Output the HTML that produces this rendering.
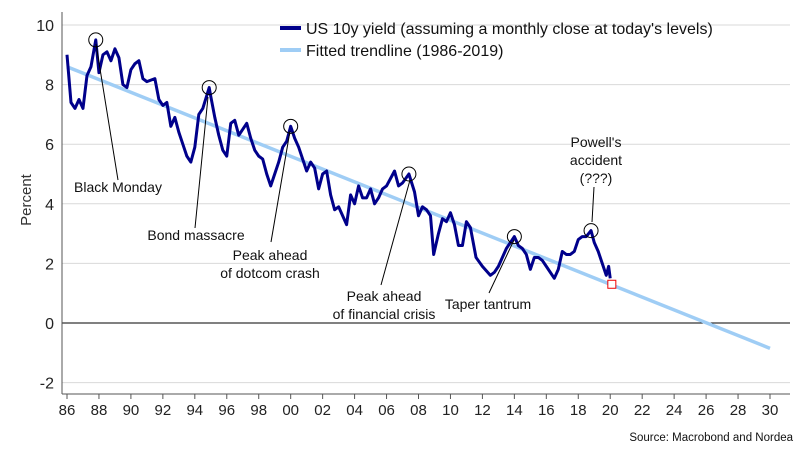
<!DOCTYPE html>
<html><head><meta charset="utf-8"><style>
body{margin:0;background:#fff}
svg{display:block;font-family:"Liberation Sans",sans-serif}
</style></head><body>
<svg id="c" width="809" height="454">
<g id="grid"></g><g id="marks"></g><g id="ann"></g>
</svg>
<script>
const years=[1986,1986.25,1986.5,1986.75,1987,1987.25,1987.5,1987.8,1988,1988.25,1988.5,1988.75,1989,1989.25,1989.5,1989.75,1990,1990.25,1990.5,1990.75,1991,1991.5,1991.75,1992,1992.25,1992.5,1992.75,1993,1993.25,1993.5,1993.75,1994,1994.25,1994.5,1994.9,1995,1995.25,1995.5,1995.75,1996,1996.25,1996.5,1996.75,1997,1997.25,1997.5,1997.75,1998,1998.25,1998.5,1998.75,1999,1999.25,1999.5,1999.75,2000,2000.25,2000.5,2000.75,2001,2001.25,2001.5,2001.75,2002,2002.25,2002.5,2002.75,2003,2003.5,2003.75,2004,2004.25,2004.5,2004.75,2005,2005.25,2005.5,2005.75,2006,2006.5,2006.75,2007,2007.4,2007.75,2008,2008.25,2008.5,2008.75,2008.95,2009.25,2009.5,2009.75,2010,2010.25,2010.5,2010.75,2011,2011.25,2011.6,2012,2012.5,2012.75,2013,2013.5,2013.75,2014,2014.25,2014.5,2014.75,2015,2015.25,2015.5,2015.75,2016,2016.5,2016.75,2017,2017.25,2017.5,2017.75,2018,2018.25,2018.5,2018.8,2019,2019.25,2019.5,2019.75,2019.9,2020];
const yields=[9.0,7.4,7.2,7.5,7.2,8.3,8.6,9.5,8.4,9.0,9.1,8.8,9.2,8.9,8.0,7.9,8.5,8.7,8.8,8.2,8.1,8.2,7.5,7.3,7.4,6.6,6.9,6.4,6.0,5.6,5.4,5.9,7.0,7.2,7.9,7.6,6.9,6.3,5.8,5.6,6.7,6.8,6.3,6.5,6.7,6.2,5.8,5.6,5.5,5.0,4.6,5.0,5.4,5.9,6.1,6.6,6.2,5.9,5.5,5.1,5.4,5.2,4.5,5.0,5.1,4.3,3.8,3.9,3.3,4.3,4.0,4.6,4.2,4.2,4.5,4.0,4.2,4.5,4.6,5.1,4.6,4.7,5.0,4.4,3.6,3.9,3.8,3.6,2.3,3.0,3.5,3.4,3.7,3.3,2.6,2.6,3.4,3.2,2.2,1.9,1.6,1.7,1.9,2.5,2.7,2.9,2.6,2.5,2.3,1.8,2.2,2.2,2.1,1.9,1.5,1.8,2.4,2.3,2.3,2.4,2.8,2.9,2.9,3.1,2.7,2.4,2.0,1.6,1.9,1.5];
const trendYears=[1986,2030];
const trendValues=[8.6,-0.85];
const yTicks=[-2,0,2,4,6,8,10];
const xTickYears=[1986,1988,1990,1992,1994,1996,1998,2000,2002,2004,2006,2008,2010,2012,2014,2016,2018,2020,2022,2024,2026,2028,2030];
const peakYears=[1987.8,1994.9,2000,2007.4,2014,2018.8];
const peakValues=[9.5,7.9,6.6,5.0,2.9,3.1];
const todayPoint=[2020.1,1.3];

const X=y=>67+(y-1986)*(703/44);
const Y=v=>323-v*29.8;
const NS="http://www.w3.org/2000/svg";
function mk(p,tag,at,txt){const e=document.createElementNS(NS,tag);for(const k in at)e.setAttribute(k,at[k]);if(txt!=null)e.textContent=txt;p.appendChild(e);return e;}
const g=document.getElementById('grid'),m=document.getElementById('marks'),a=document.getElementById('ann');
yTicks.forEach(v=>{
 const l=mk(g,'line',{x1:62,x2:790,y1:Y(v),y2:Y(v),stroke:v===0?'#000':'#d9d9d9','stroke-width':1});
 
 
 const t=mk(g,'text',{x:54,y:Y(v)+6,'text-anchor':'end','font-size':16,fill:'#222'},v);
 
 
});
const ax=mk(g,'line',{x1:62,x2:62,y1:12,y2:394,stroke:'#555'});


const xa=mk(g,'line',{x1:62,x2:790,y1:394,y2:394,stroke:'#555'});


xTickYears.forEach(yr=>{
 const tk=mk(g,'line',{x1:X(yr),x2:X(yr),y1:394,y2:399,stroke:'#555'});
 
 
 const t=mk(g,'text',{x:X(yr),y:415,'text-anchor':'middle','font-size':15,fill:'#222'},String(yr%100).padStart(2,'0'));
 
 
});
const yl=mk(g,'text',{x:31,y:200,'text-anchor':'middle','font-size':15,fill:'#333',transform:'rotate(-90 31 200)'},'Percent');


const tr=mk(m,'line',{x1:X(trendYears[0]),y1:Y(trendValues[0]),x2:X(trendYears[1]),y2:Y(trendValues[1]),stroke:'#9fcdf5','stroke-width':3.5});


const yl2=mk(m,'polyline',{points:years.map((yr,i)=>X(yr)+','+Y(yields[i])).join(' '),fill:'none',stroke:'#00008b','stroke-width':3,'stroke-linejoin':'round'});


peakYears.forEach((yr,i)=>{
 const c=mk(m,'circle',{cx:X(yr),cy:Y(peakValues[i]),r:7,fill:'none',stroke:'#000','stroke-width':1});
 
 
});
const sq=mk(m,'rect',{x:X(todayPoint[0])-4,y:Y(todayPoint[1])-4,width:8,height:8,fill:'#fff',stroke:'#e00','stroke-width':1});


// annotations
const anns=[
 {lines:['Black Monday'],x:118,y:192,l:[96,44,118,180],n:'black-monday'},
 {lines:['Bond massacre'],x:196,y:240,l:[208,97,195,228],n:'bond-massacre'},
 {lines:['Peak ahead','of dotcom crash'],x:270,y:260,l:[290,131,271,242],n:'dotcom-peak'},
 {lines:['Peak ahead','of financial crisis'],x:384,y:301,l:[410,180,381,285],n:'financial-crisis-peak'},
 {lines:['Taper tantrum'],x:488,y:309,l:[514,240,489,293],n:'taper-tantrum'},
 {lines:["Powell's",'accident','(???)'],x:596,y:147,l:[594,187,592,222],n:'powells-accident'}
];
anns.forEach(o=>{
 const ln=mk(a,'line',{x1:o.l[0],y1:o.l[1],x2:o.l[2],y2:o.l[3],stroke:'#000','stroke-width':1});
 
 
 o.lines.forEach((s,i)=>{
  const t=mk(a,'text',{x:o.x,y:o.y+i*18,'text-anchor':'middle','font-size':14,fill:'#111'},s);
  
  
 });
});
// legend
const l1=mk(a,'line',{x1:280,x2:301,y1:28,y2:28,stroke:'#00008b','stroke-width':4});


const t1=mk(a,'text',{x:306,y:34,'font-size':16,fill:'#111'},"US 10y yield (assuming a monthly close at today's levels)");


const l2=mk(a,'line',{x1:280,x2:301,y1:50,y2:50,stroke:'#9fcdf5','stroke-width':4});


const t2=mk(a,'text',{x:306,y:56,'font-size':16,fill:'#111'},'Fitted trendline (1986-2019)');


const src=mk(a,'text',{x:793,y:441,'text-anchor':'end','font-size':11.5,fill:'#111'},'Source: Macrobond and Nordea');


</script>
</body></html>
